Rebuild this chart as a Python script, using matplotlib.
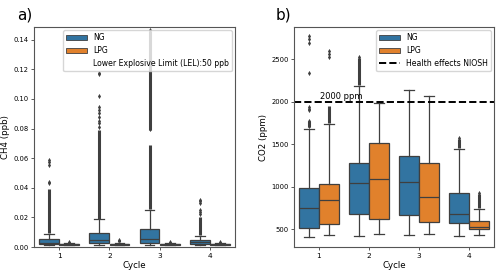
import numpy as np
import matplotlib
matplotlib.use("Agg")
import matplotlib.pyplot as plt
from matplotlib.patches import Patch
from matplotlib.lines import Line2D

cycles = ["1", "2", "3", "4"]
gases = ["NG", "LPG"]
colors = {"NG": "#3274a1", "LPG": "#e1812c"}
gray = "#3f3f3f"

# box stats per cycle: whislo, q1, med, q3, whishi
ch4_ng = [[0.0014, 0.0020, 0.0030, 0.0052, 0.0090],
          [0.0016, 0.0026, 0.0046, 0.0093, 0.0189],
          [0.0017, 0.0030, 0.0055, 0.0120, 0.0251],
          [0.0016, 0.0023, 0.0033, 0.0048, 0.0075]]
ch4_lpg = [[0.0014, 0.0017, 0.0019, 0.0022, 0.0028],
           [0.0014, 0.0017, 0.0019, 0.0022, 0.0030],
           [0.0014, 0.0017, 0.0019, 0.0021, 0.0027],
           [0.0013, 0.0016, 0.0018, 0.0020, 0.0025]]
# dense outlier streaks (low, high) and single outliers
ch4_ng_dense = [[(0.0095, 0.0395)], [(0.0192, 0.079)], [(0.0255, 0.069), (0.079, 0.146)], [(0.0078, 0.0205)]]
ch4_ng_fliers = [[0.0435, 0.0442, 0.0555, 0.0575, 0.059],
                 [0.0813, 0.0836, 0.0853, 0.0876, 0.0903, 0.0925, 0.0948, 0.102, 0.1168, 0.1177],
                 [0.0795, 0.1465],
                 [0.0222, 0.0238, 0.0248, 0.0300, 0.0308, 0.0315]]
ch4_lpg_dense = [[(0.0029, 0.0034)], [(0.0031, 0.0048)], [(0.0028, 0.0033)], [(0.0026, 0.0032)]]
ch4_lpg_fliers = [[0.0036], [0.0050], [0.0035], [0.0034]]

co2_ng = [[406, 519, 754, 982, 1680],
          [421, 676, 1041, 1284, 2190],
          [433, 665, 1053, 1366, 2139],
          [421, 571, 676, 924, 1445]]
co2_lpg = [[433, 559, 845, 1029, 1739],
           [441, 618, 1092, 1512, 1982],
           [448, 582, 876, 1276, 2072],
           [429, 500, 531, 601, 742]]
co2_ng_dense = [[(1705, 1780)], [(2200, 2515)], [], [(1455, 1560)]]
co2_ng_fliers = [[1710, 1725, 1745, 1775, 1905, 1920, 1935, 2340, 2695, 2735, 2770],
                 [2523], [], [1575]]
co2_lpg_dense = [[(1750, 1950)], [], [], [(755, 920)]]
co2_lpg_fliers = [[2530, 2560, 2598], [], [], [930]]

ch4_lel_label = "Lower Explosive Limit (LEL):50 ppb"
co2_limit = 2000


def draw(ax, ng, lpg, ng_dense, lpg_dense, ng_fl, lpg_fl):
    for gi, (g, data, dense, fl) in enumerate([("NG", ng, ng_dense, ng_fl),
                                              ("LPG", lpg, lpg_dense, lpg_fl)]):
        off = -0.2 if gi == 0 else 0.2
        stats = []
        for i, s in enumerate(data):
            stats.append(dict(whislo=s[0], q1=s[1], med=s[2], q3=s[3], whishi=s[4], fliers=[]))
        pos = [i + off for i in range(len(data))]
        ax.bxp(stats, positions=pos, widths=0.392, patch_artist=True, showfliers=False,
               boxprops=dict(facecolor=colors[g], edgecolor=gray, linewidth=0.9),
               medianprops=dict(color=gray, linewidth=0.9),
               whiskerprops=dict(color=gray, linewidth=0.9),
               capprops=dict(color=gray, linewidth=0.9), manage_ticks=False)
        for i in range(len(data)):
            for lo, hi in dense[i]:
                ax.vlines(pos[i], lo, hi, color=gray, linewidth=2.2, zorder=1)
            if fl[i]:
                ax.plot([pos[i]] * len(fl[i]), fl[i], "d", color=gray, markersize=2.6,
                        markeredgewidth=0, zorder=1)
    ax.set_xlim(-0.5, 3.5)
    ax.set_xticks(range(len(cycles)))
    ax.set_xticklabels(cycles)
    ax.set_xlabel("Cycle", fontsize=6.2, labelpad=2)
    ax.tick_params(labelsize=4.9, length=2.5, width=0.6, pad=1.5, color=gray)
    ax.tick_params(axis="x", labelsize=5.4)
    for sp in ax.spines.values():
        sp.set_color("#555555")
        sp.set_linewidth(0.8)


fig = plt.figure(figsize=(5, 2.76), dpi=100)
ax1 = fig.add_axes([0.068, 0.105, 0.402, 0.797])
ax2 = fig.add_axes([0.588, 0.105, 0.4, 0.797])

draw(ax1, ch4_ng, ch4_lpg, ch4_ng_dense, ch4_lpg_dense, ch4_ng_fliers, ch4_lpg_fliers)
ax1.set_ylim(0, 0.1485)
ax1.set_yticks(np.arange(0, 0.141, 0.02))
ax1.set_yticklabels([f"{v:.2f}" for v in np.arange(0, 0.141, 0.02)])
ax1.set_ylabel("CH4 (ppb)", fontsize=6.2, labelpad=2)
ax1.text(-0.085, 1.035, "a)", transform=ax1.transAxes, fontsize=11)
h1 = [Patch(facecolor=colors["NG"], edgecolor=gray, linewidth=0.6, label="NG"),
      Patch(facecolor=colors["LPG"], edgecolor=gray, linewidth=0.6, label="LPG"),
      Line2D([], [], linestyle="none", label=ch4_lel_label)]
ax1.legend(handles=h1, loc="upper right", fontsize=5.6, borderaxespad=0.4,
           handlelength=2.6, labelspacing=0.5, handletextpad=0.8)

draw(ax2, co2_ng, co2_lpg, co2_ng_dense, co2_lpg_dense, co2_ng_fliers, co2_lpg_fliers)
ax2.axhline(co2_limit, color="black", linestyle="--", linewidth=1.4)
ax2.text(0.02, co2_limit + 15, f"{co2_limit} ppm", fontsize=6, va="bottom")
ax2.set_ylim(292, 2880)
ax2.set_yticks([500, 1000, 1500, 2000, 2500])
ax2.set_ylabel("CO2 (ppm)", fontsize=6.2, labelpad=2)
ax2.text(-0.09, 1.035, "b)", transform=ax2.transAxes, fontsize=11)
h2 = [Patch(facecolor=colors["NG"], edgecolor=gray, linewidth=0.6, label="NG"),
      Patch(facecolor=colors["LPG"], edgecolor=gray, linewidth=0.6, label="LPG"),
      Line2D([], [], color="black", linestyle="--", linewidth=1.4, label="Health effects NIOSH")]
ax2.legend(handles=h2, loc="upper right", fontsize=5.6, borderaxespad=0.4,
           handlelength=2.6, labelspacing=0.5, handletextpad=0.8)

fig.savefig("out.png", dpi=100)
